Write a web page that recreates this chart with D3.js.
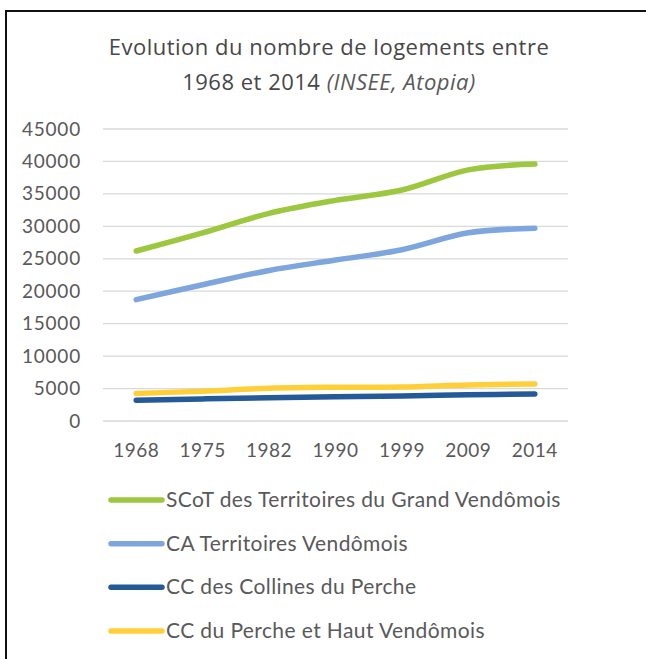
<!DOCTYPE html>
<html>
<head>
<meta charset="utf-8">
<script src="https://cdn.jsdelivr.net/npm/d3@7"></script>
<style>
  body { margin: 0; background: #fff; }
  text { font-family: Lato, "Open Sans", sans-serif; fill: #595959; }
</style>
</head>
<body>
<script>
// Data
const years = ["1968", "1975", "1982", "1990", "1999", "2009", "2014"];
const seriesNames = [
  "SCoT des Territoires du Grand Vendômois",
  "CA Territoires Vendômois",
  "CC des Collines du Perche",
  "CC du Perche et Haut Vendômois"
];
const scotValues = [26200, 29000, 32000, 34000, 35600, 38700, 39600];
const caValues = [18700, 21000, 23200, 24800, 26400, 29000, 29700];
const collinesValues = [3200, 3400, 3600, 3750, 3850, 4050, 4150];
const percheValues = [4250, 4600, 5050, 5200, 5250, 5550, 5700];
const yTicks = [0, 5000, 10000, 15000, 20000, 25000, 30000, 35000, 40000, 45000];
const colors = ["#9dc73f", "#7ea6de", "#245a98", "#ffcf3a"];

const w = 646;
const h = 659;
const plot = { left: 103, right: 568, top: 129, bottom: 421 };

const svg = d3.select("body")
  .append("svg")
  .attr("width", w)
  .attr("height", h);

// Frame (top and left edges are visible in the picture)
svg.append("path")
  .attr("d", `M6,${h} V11 H${w}`)
  .attr("fill", "none")
  .attr("stroke", "#111")
  .attr("stroke-width", 2);

// Title
const title = svg.append("text")
  .attr("text-anchor", "middle")
  .style("font-family", "'Open Sans', sans-serif")
  .style("font-size", "22px")
  .style("font-weight", 500)
  .style("letter-spacing", "0.5px")
  .style("fill", "#474747");
title.append("tspan").attr("x", 329).attr("y", 55)
  .text("Evolution du nombre de logements entre");
const t2 = title.append("tspan").attr("x", 329).attr("y", 90);
t2.append("tspan").text("1968 et 2014 ");
t2.append("tspan").style("font-style", "italic").style("font-weight", 400).style("fill", "#595959").text("(INSEE, Atopia)");

// Scales
const x = d3.scaleBand().domain(years).range([plot.left, plot.right]);
const y = d3.scaleLinear().domain([0, 45000]).range([plot.bottom, plot.top]);

// Gridlines
svg.append("g")
  .selectAll("line")
  .data(yTicks)
  .enter()
  .append("line")
  .attr("x1", plot.left)
  .attr("x2", plot.right)
  .attr("y1", d => y(d))
  .attr("y2", d => y(d))
  .attr("stroke", "#d9d9d9")
  .attr("stroke-width", 1.3);

// Y axis labels
const yAxis = svg.append("g")
  .attr("transform", `translate(${plot.left - 22},0)`)
  .call(d3.axisLeft(y).tickValues(yTicks).tickSize(0).tickPadding(0).tickFormat(d3.format("d")));
yAxis.select(".domain").remove();
yAxis.selectAll("text")
  .style("font-size", "19px")
  .style("letter-spacing", "0.8px")
  .style("font-family", "Lato, sans-serif")
  .attr("fill", "#595959");

// X axis labels
const xAxis = svg.append("g")
  .attr("transform", `translate(0,${plot.bottom + 22})`)
  .call(d3.axisBottom(x).tickSize(0).tickPadding(0));
xAxis.select(".domain").remove();
xAxis.selectAll("text")
  .style("font-size", "19px")
  .style("letter-spacing", "0.5px")
  .style("font-family", "Lato, sans-serif")
  .attr("fill", "#595959");

// Lines
const allSeries = [scotValues, caValues, collinesValues, percheValues];
const line = d3.line()
  .x((d, i) => x(years[i]) + x.bandwidth() / 2)
  .y(d => y(d))
  .curve(d3.curveCatmullRom.alpha(0.5));

svg.append("g")
  .selectAll("path")
  .data(allSeries)
  .enter()
  .append("path")
  .attr("d", d => line(d))
  .attr("fill", "none")
  .attr("stroke", (d, i) => colors[i])
  .attr("stroke-width", 5.5)
  .attr("stroke-linecap", "round")
  .attr("stroke-linejoin", "round");

// Legend
const legend = svg.append("g");
const legendY = d3.scalePoint().domain(seriesNames).range([500, 631]);
seriesNames.forEach((name, i) => {
  legend.append("line")
    .attr("x1", 111)
    .attr("x2", 162)
    .attr("y1", legendY(name))
    .attr("y2", legendY(name))
    .attr("stroke", colors[i])
    .attr("stroke-width", 5.5)
    .attr("stroke-linecap", "round");
  legend.append("text")
    .attr("x", 166)
    .attr("y", legendY(name) + 7)
    .style("font-size", "21px")
    .style("letter-spacing", "0.4px")
    .text(name);
});
</script>
</body>
</html>
